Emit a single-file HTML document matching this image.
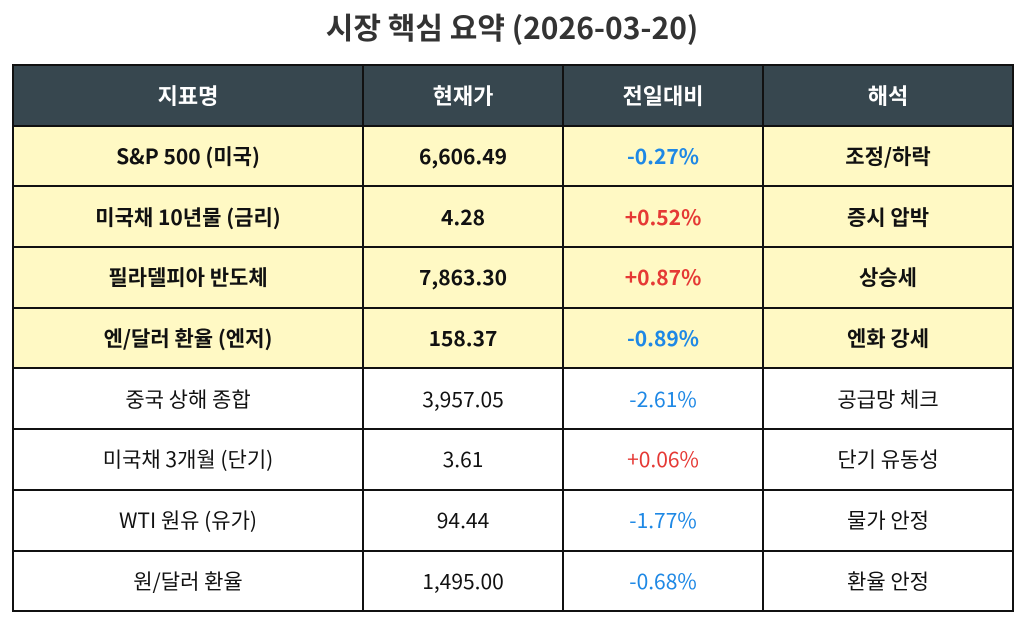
<!DOCTYPE html>
<html><head><meta charset="utf-8"><style>
body{margin:0;width:1024px;height:623px;background:#fff;font-family:"Noto Sans CJK KR","Liberation Sans",sans-serif;overflow:hidden}
h1{position:absolute;left:0;top:4px;width:1024px;margin:0;text-align:center;font-size:30px;font-weight:bold;color:#333;line-height:44px}
table{position:absolute;left:12px;top:64px;width:1000px;border-collapse:collapse;table-layout:fixed}
td,th{border:2px solid #111;text-align:center;font-size:21px;height:58.7px;padding:0;color:#111;line-height:24px}
th{background:#37474f;color:#fff;font-weight:bold;font-size:22px}
tr.hl td{background:#fff9c4;font-weight:bold}
.b{color:#1e88e5}.r{color:#e53935}
</style></head><body>
<h1>시장 핵심 요약 (2026-03-20)</h1>
<table>
<colgroup><col style="width:350px"><col style="width:200px"><col style="width:200px"><col style="width:250px"></colgroup>
<tr><th>지표명</th><th>현재가</th><th>전일대비</th><th>해석</th></tr>
<tr class="hl"><td>S&amp;P 500 (미국)</td><td>6,606.49</td><td class="b">-0.27%</td><td>조정/하락</td></tr>
<tr class="hl"><td>미국채 10년물 (금리)</td><td>4.28</td><td class="r">+0.52%</td><td>증시 압박</td></tr>
<tr class="hl"><td>필라델피아 반도체</td><td>7,863.30</td><td class="r">+0.87%</td><td>상승세</td></tr>
<tr class="hl"><td>엔/달러 환율 (엔저)</td><td>158.37</td><td class="b">-0.89%</td><td>엔화 강세</td></tr>
<tr><td>중국 상해 종합</td><td>3,957.05</td><td class="b">-2.61%</td><td>공급망 체크</td></tr>
<tr><td>미국채 3개월 (단기)</td><td>3.61</td><td class="r">+0.06%</td><td>단기 유동성</td></tr>
<tr><td>WTI 원유 (유가)</td><td>94.44</td><td class="b">-1.77%</td><td>물가 안정</td></tr>
<tr><td>원/달러 환율</td><td>1,495.00</td><td class="b">-0.68%</td><td>환율 안정</td></tr>
</table>
</body></html>
